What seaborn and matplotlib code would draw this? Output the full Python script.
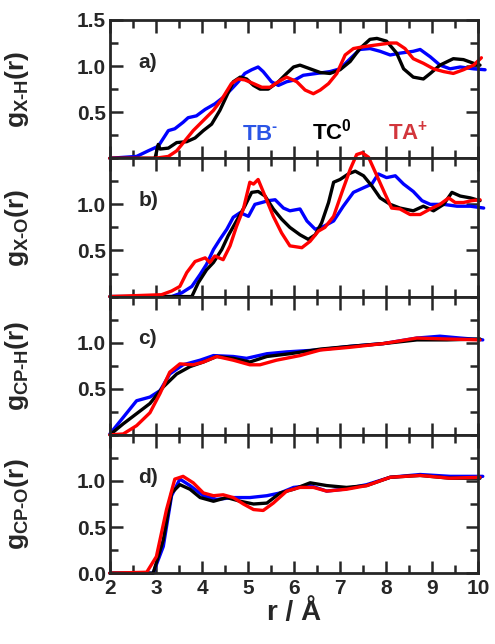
import numpy as np
import pandas as pd
import matplotlib
matplotlib.use('Agg')
import matplotlib.pyplot as plt
import seaborn as sns
from matplotlib.ticker import MultipleLocator

# series names / colours
ions = ['TB', 'TC', 'TA']
line_colors = {'TB': '#0000ff', 'TC': '#000000', 'TA': '#ff0000'}

# a) g_X-H
r_a_tb = [2.0, 2.58, 2.83, 3.05, 3.27, 3.41, 3.59, 3.70, 3.88, 4.07, 4.28, 4.46, 4.64, 4.79, 4.93, 5.08, 5.22, 5.33, 5.51, 5.66, 5.84, 6.02,
          6.20, 6.49, 6.78, 7.0, 7.22, 7.43, 7.65, 7.87, 8.09, 8.30, 8.59, 8.74, 8.96, 9.17, 9.39, 9.61, 9.90, 10.15]
g_a_tb = [0.0, 0.02, 0.08, 0.13, 0.30, 0.32, 0.39, 0.44, 0.46, 0.53, 0.59, 0.66, 0.75, 0.83, 0.92, 0.96, 0.99, 0.94, 0.83, 0.79, 0.83, 0.85,
          0.90, 0.92, 0.94, 0.97, 1.08, 1.18, 1.19, 1.16, 1.12, 1.14, 1.16, 1.18, 1.10, 1.01, 0.97, 0.99, 0.97, 0.96]
r_a_tc = [2.0, 2.98, 3.05, 3.09, 3.27, 3.45, 3.67, 3.85, 4.03, 4.21, 4.39, 4.54, 4.68, 4.83, 4.97, 5.12, 5.26, 5.44, 5.66, 5.84, 5.99,
          6.13, 6.35, 6.57, 6.78, 7.0, 7.22, 7.43, 7.65, 7.80, 8.01, 8.23, 8.38, 8.59, 8.81, 8.96, 9.17, 9.46, 9.68, 9.90, 10.04]
g_a_tc = [0.0, 0.0, 0.15, 0.10, 0.11, 0.17, 0.18, 0.22, 0.30, 0.37, 0.52, 0.68, 0.83, 0.88, 0.86, 0.79, 0.75, 0.75, 0.83, 0.92, 0.99,
          1.01, 0.97, 0.93, 0.92, 0.96, 1.05, 1.19, 1.29, 1.30, 1.27, 1.14, 0.97, 0.88, 0.86, 0.92, 1.01, 1.08, 1.07, 1.03, 1.01]
r_a_ta = [2.0, 2.98, 3.27, 3.45, 3.63, 3.81, 4.03, 4.25, 4.43, 4.64, 4.79, 4.93, 5.12, 5.30, 5.48, 5.66, 5.84, 6.06, 6.24, 6.42, 6.57,
          6.75, 6.93, 7.11, 7.29, 7.51, 7.80, 8.09, 8.23, 8.41, 8.59, 8.81, 9.03, 9.25, 9.46, 9.68, 9.90, 10.07]
g_a_ta = [0.0, 0.0, 0.02, 0.08, 0.19, 0.30, 0.41, 0.52, 0.64, 0.81, 0.86, 0.85, 0.81, 0.77, 0.77, 0.83, 0.88, 0.83, 0.74, 0.70, 0.74,
          0.81, 0.92, 1.12, 1.19, 1.21, 1.23, 1.25, 1.25, 1.19, 1.08, 1.03, 0.97, 0.94, 0.92, 0.96, 1.01, 1.09]

# b) g_X-O
r_b_tb = [2.0, 3.34, 3.56, 3.78, 3.96, 4.10, 4.25, 4.39, 4.54, 4.68, 4.83, 5.01, 5.15, 5.30, 5.44, 5.59, 5.77, 5.91, 6.13, 6.28, 6.46,
          6.64, 6.86, 7.07, 7.29, 7.51, 7.69, 7.83, 8.01, 8.20, 8.38, 8.59, 8.78, 8.96, 9.25, 9.54, 9.83, 10.12]
g_b_tb = [0.0, 0.0, 0.04, 0.11, 0.24, 0.35, 0.51, 0.62, 0.73, 0.86, 0.91, 0.87, 1.00, 1.02, 1.04, 1.05, 0.96, 0.93, 0.95, 0.82, 0.73,
          0.76, 0.82, 0.98, 1.13, 1.18, 1.22, 1.33, 1.29, 1.31, 1.22, 1.14, 1.04, 1.00, 1.00, 0.98, 0.98, 0.96]
r_b_tc = [2.0, 3.78, 3.92, 4.10, 4.25, 4.43, 4.57, 4.75, 4.93, 5.08, 5.22, 5.37, 5.55, 5.73, 5.91, 6.13, 6.31, 6.46, 6.60, 6.75, 6.86,
          7.0, 7.18, 7.33, 7.51, 7.69, 7.87, 8.09, 8.30, 8.59, 8.81, 9.03, 9.25, 9.43, 9.61, 9.83, 10.04]
g_b_tc = [0.0, 0.0, 0.15, 0.29, 0.37, 0.51, 0.66, 0.82, 0.98, 1.13, 1.14, 1.09, 0.95, 0.84, 0.75, 0.67, 0.62, 0.67, 0.80, 1.02, 1.24,
          1.27, 1.33, 1.36, 1.31, 1.20, 1.07, 1.00, 0.96, 0.93, 0.98, 0.93, 1.00, 1.13, 1.09, 1.07, 1.04]
r_b_ta = [2.0, 3.12, 3.34, 3.52, 3.67, 3.85, 4.07, 4.17, 4.28, 4.46, 4.61, 4.75, 4.90, 5.04, 5.12, 5.22, 5.37, 5.55, 5.73, 5.91, 6.17,
          6.35, 6.53, 6.67, 6.86, 7.04, 7.22, 7.36, 7.48, 7.62, 7.80, 7.98, 8.12, 8.30, 8.52, 8.74, 8.96, 9.17, 9.36, 9.50, 9.68, 9.86, 10.04]
g_b_ta = [0.0, 0.02, 0.06, 0.11, 0.26, 0.38, 0.42, 0.37, 0.44, 0.40, 0.55, 0.76, 0.95, 1.24, 1.22, 1.27, 1.09, 0.87, 0.69, 0.55, 0.53,
          0.60, 0.71, 0.75, 0.87, 1.13, 1.38, 1.54, 1.56, 1.51, 1.31, 1.11, 0.96, 0.95, 0.89, 0.89, 0.95, 1.00, 1.07, 1.02, 1.02, 1.04, 1.05]

# c) g_CP-H
r_c_tb = [2.0, 2.29, 2.58, 2.87, 3.09, 3.30, 3.59, 3.96, 4.25, 4.68, 4.97, 5.41, 5.84, 6.49, 7.22, 7.94, 8.67, 9.17, 9.61, 10.1]
g_c_tb = [0.01, 0.19, 0.37, 0.41, 0.48, 0.66, 0.76, 0.81, 0.86, 0.85, 0.83, 0.88, 0.90, 0.92, 0.96, 0.99, 1.05, 1.07, 1.05, 1.03]
r_c_tc = [2.0, 2.29, 2.58, 2.87, 3.16, 3.45, 3.74, 4.03, 4.32, 4.68, 5.04, 5.41, 5.91, 6.57, 7.22, 7.94, 8.67, 9.32, 10.04]
g_c_tc = [0.0, 0.12, 0.23, 0.34, 0.52, 0.66, 0.74, 0.79, 0.85, 0.83, 0.79, 0.85, 0.88, 0.93, 0.96, 0.99, 1.03, 1.03, 1.04]
r_c_ta = [2.0, 2.29, 2.58, 2.87, 3.09, 3.30, 3.52, 3.81, 4.03, 4.32, 4.68, 5.04, 5.26, 5.62, 6.13, 6.57, 7.22, 7.94, 8.67, 9.32, 10.04]
g_c_ta = [0.0, 0.01, 0.10, 0.24, 0.45, 0.68, 0.77, 0.76, 0.79, 0.85, 0.81, 0.76, 0.76, 0.81, 0.86, 0.92, 0.95, 0.99, 1.05, 1.04, 1.03]

# d) g_CP-O
r_d_tb = [2.0, 2.94, 3.16, 3.34, 3.52, 3.74, 4.03, 4.32, 4.68, 5.04, 5.41, 5.70, 5.99, 6.35, 6.71, 7.07, 7.58, 8.09, 8.74, 9.39, 10.1]
g_d_tb = [0.0, 0.0, 0.29, 0.84, 1.02, 0.95, 0.84, 0.80, 0.82, 0.82, 0.84, 0.87, 0.93, 0.95, 0.89, 0.91, 0.96, 1.04, 1.07, 1.05, 1.05]
r_d_tc = [2.0, 2.94, 3.16, 3.34, 3.52, 3.74, 3.96, 4.25, 4.54, 4.83, 5.12, 5.41, 5.70, 5.99, 6.35, 6.71, 7.14, 7.58, 8.09, 8.74, 9.39, 10.04]
g_d_tc = [0.0, 0.0, 0.36, 0.87, 0.96, 0.91, 0.82, 0.78, 0.82, 0.78, 0.75, 0.76, 0.87, 0.91, 0.98, 0.95, 0.93, 0.95, 1.04, 1.06, 1.03, 1.03]
r_d_ta = [2.0, 2.80, 3.01, 3.23, 3.41, 3.59, 3.81, 4.03, 4.25, 4.46, 4.68, 4.90, 5.12, 5.33, 5.55, 5.84, 6.13, 6.42, 6.71, 7.14, 7.58, 8.09, 8.74, 9.39, 10.04]
g_d_ta = [0.0, 0.01, 0.18, 0.69, 1.02, 1.05, 0.98, 0.87, 0.84, 0.85, 0.82, 0.75, 0.69, 0.68, 0.76, 0.89, 0.93, 0.93, 0.89, 0.91, 0.95, 1.04, 1.06, 1.03, 1.04]

panel_tags = ['a)', 'b)', 'c)', 'd)']
ylabels = [r'$g_{\text{X-H}}(r)$', r'$g_{\text{X-O}}(r)$',
           r'$g_{\text{CP-H}}(r)$', r'$g_{\text{CP-O}}(r)$']
xticks = [2, 3, 4, 5, 6, 7, 8, 9, 10]

panels = [
    {'TB': (r_a_tb, g_a_tb), 'TC': (r_a_tc, g_a_tc), 'TA': (r_a_ta, g_a_ta)},
    {'TB': (r_b_tb, g_b_tb), 'TC': (r_b_tc, g_b_tc), 'TA': (r_b_ta, g_b_ta)},
    {'TB': (r_c_tb, g_c_tb), 'TC': (r_c_tc, g_c_tc), 'TA': (r_c_ta, g_c_ta)},
    {'TB': (r_d_tb, g_d_tb), 'TC': (r_d_tc, g_d_tc), 'TA': (r_d_ta, g_d_ta)},
]

sns.set_style('ticks')
plt.rcParams['font.family'] = ['Liberation Sans', 'DejaVu Sans']
plt.rcParams['font.weight'] = 'bold'
plt.rcParams['mathtext.fontset'] = 'custom'
plt.rcParams['mathtext.rm'] = 'Liberation Sans:bold'
plt.rcParams['mathtext.it'] = 'Liberation Sans:bold'
plt.rcParams['mathtext.bf'] = 'Liberation Sans:bold'

fig, axes = plt.subplots(4, 1, figsize=(4.95, 6.44), dpi=100, sharex=True)
fig.subplots_adjust(left=0.222, right=0.966, top=0.969, bottom=0.110, hspace=0)

for i, ax in enumerate(axes):
    rows = []
    for ion in ions:
        rr, gg = panels[i][ion]
        rows.append(pd.DataFrame({'r': rr, 'g': gg, 'ion': ion}))
    df = pd.concat(rows, ignore_index=True)
    sns.lineplot(data=df, x='r', y='g', hue='ion', hue_order=ions, palette=line_colors,
                 estimator=None, sort=False, lw=2.4, legend=False, ax=ax)
    for ln in ax.lines:
        ln.set_clip_on(False)
        ln.set_solid_joinstyle('round')
        ln.set_solid_capstyle('round')

    ax.set_xlim(2, 10)
    ax.set_ylim(0, 1.5)
    ax.xaxis.set_major_locator(MultipleLocator(1))
    ax.xaxis.set_minor_locator(MultipleLocator(0.5))
    ax.yaxis.set_major_locator(MultipleLocator(0.5))
    ax.yaxis.set_minor_locator(MultipleLocator(0.25))
    ax.tick_params(which='both', direction='in', top=True, right=True, width=1.8)
    ax.tick_params(which='major', length=9)
    ax.tick_params(which='minor', length=6)
    ax.tick_params(axis='y', labelsize=15, pad=3)
    ax.tick_params(axis='x', labelsize=15, pad=4)
    for sp in ax.spines.values():
        sp.set_linewidth(2.0)

    if i == 0:
        ax.set_yticks([0.5, 1.0, 1.5])
    elif i == 3:
        ax.set_yticks([0.0, 0.5, 1.0])
    else:
        ax.set_yticks([0.5, 1.0])
    ax.set_yticklabels(['%.1f' % t for t in ax.get_yticks()], fontweight='bold')

    ax.set_ylabel(ylabels[i], fontsize=19)
    ax.yaxis.set_label_coords(-0.215, 0.5)
    ax.set_xlabel('')
    ax.text(2.62, 1.04, panel_tags[i], fontsize=15, fontweight='bold', va='center', ha='left')

axes[0].text(4.86, 0.2, r'TB$^{\text{-}}$', color='#2b55e6', fontsize=16, fontweight='bold')
axes[0].text(6.38, 0.2, r'TC$^{0}$', color='black', fontsize=16, fontweight='bold')
axes[0].text(8.05, 0.2, r'TA$^{+}$', color='#d2363c', fontsize=16, fontweight='bold')

axes[3].set_xticks(xticks)
axes[3].set_xticklabels([str(t) for t in xticks], fontweight='bold')
axes[3].set_xlabel('r / Å', fontsize=20, fontweight='bold', labelpad=2)

fig.savefig('out.png', dpi=100)
